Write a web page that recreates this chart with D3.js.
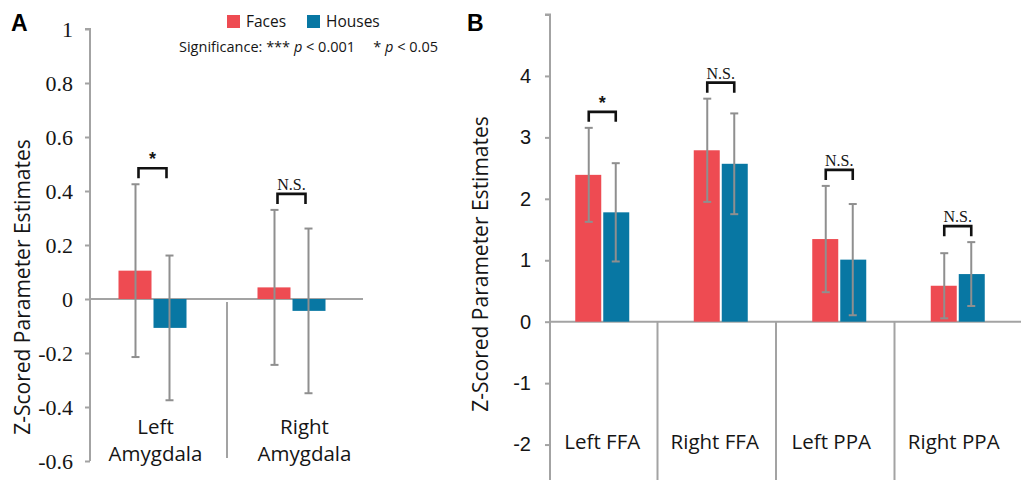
<!DOCTYPE html>
<html><head><meta charset="utf-8">
<script src="https://cdn.jsdelivr.net/npm/d3@7/dist/d3.min.js"></script>
<style>
html,body{margin:0;padding:0;background:#fff;}
svg{display:block;}
</style></head>
<body>
<svg id="chart" width="1021" height="480"></svg>
<script>
// ---------- data ----------
const seriesNames = ["Faces", "Houses"];
const seriesColors = ["#EE4B52", "#0877A3"];

const categoriesA = ["Left Amygdala", "Right Amygdala"];
const facesA = [0.105, 0.043];
const housesA = [-0.107, -0.044];
const facesErrA = [0.32, 0.287];
const housesErrA = [0.268, 0.305];
const sigA = ["*", "N.S."];
const ticksA = [-0.6, -0.4, -0.2, 0, 0.2, 0.4, 0.6, 0.8, 1];
const tickLabelsA = ["-0.6", "-0.4", "-0.2", "0", "0.2", "0.4", "0.6", "0.8", "1"];

const categoriesB = ["Left FFA", "Right FFA", "Left PPA", "Right PPA"];
const facesB = [2.39, 2.79, 1.345, 0.585];
const housesB = [1.78, 2.57, 1.01, 0.775];
const facesErrB = [0.765, 0.84, 0.865, 0.53];
const housesErrB = [0.8, 0.82, 0.905, 0.52];
const sigB = ["*", "N.S.", "N.S.", "N.S."];
const ticksB = [-2, -1, 0, 1, 2, 3, 4, 5];
const tickLabelsB = ["-2", "-1", "0", "1", "2", "3", "4", ""];

const yTitle = "Z-Scored Parameter Estimates";

// ---------- drawing ----------
const svg = d3.select("#chart");
const AXIS = "#a3a3a3", ERR = "#8f8f8f", INK = "#151515";
const sans = "'Open Sans', 'Noto Sans', sans-serif";
const serif = "'Liberation Serif', 'Times New Roman', serif";
const arial = "'Liberation Sans', Arial, sans-serif";

function panel(cfg) {
  const g = svg.append("g");
  const y = d3.scaleLinear().domain(cfg.domain).range(cfg.yRange);
  const x = d3.scaleBand().domain(cfg.cats).range(cfg.xRange);
  const sub = d3.scaleBand().domain(seriesNames).range([-cfg.barW, cfg.barW]);

  // y axis
  const axis = d3.axisLeft(y).tickValues(cfg.ticks).tickSize(5).tickPadding(cfg.tickPad)
    .tickFormat(d => cfg.tickLabels[cfg.ticks.indexOf(d)]);
  const ag = g.append("g").attr("transform", `translate(${cfg.axisX},0)`).call(axis);
  ag.attr("font-family", cfg.tickFont).attr("font-size", cfg.tickSize);
  ag.select(".domain").attr("stroke", AXIS).attr("stroke-width", 2)
    .attr("d", `M-5,${y(cfg.domain[1])}H0V${cfg.axisBottom}`);
  ag.selectAll(".tick line").attr("stroke", AXIS).attr("stroke-width", 2);
  ag.selectAll(".tick text").attr("fill", INK)
    .attr("font-family", cfg.tickFont).attr("font-size", cfg.tickSize)
    .style("font-family", cfg.tickFont).style("font-size", cfg.tickSize + "px");

  // zero line
  g.append("line").attr("x1", cfg.axisX).attr("x2", cfg.zeroEnd)
    .attr("y1", y(0)).attr("y2", y(0)).attr("stroke", AXIS).attr("stroke-width", 2);

  // separators
  cfg.cats.slice(1).forEach(c => {
    g.append("line").attr("x1", x(c) + cfg.sepShift).attr("x2", x(c) + cfg.sepShift)
      .attr("y1", y(0) + cfg.sepGap).attr("y2", cfg.sepBottom)
      .attr("stroke", AXIS).attr("stroke-width", 2);
  });

  const vals = [cfg.faces, cfg.houses];
  const errs = [cfg.facesErr, cfg.housesErr];
  const cx = c => x(c) + x.bandwidth() / 2 + cfg.barShift;

  // bars
  seriesNames.forEach((s, si) => {
    g.selectAll(null).data(cfg.cats).enter().append("rect")
      .attr("x", c => cx(c) + sub(s) + (si === 1 ? 1 : 0))
      .attr("width", sub.bandwidth() - 1)
      .attr("y", (c, i) => y(Math.max(0, vals[si][i])))
      .attr("height", (c, i) => Math.abs(y(vals[si][i]) - y(0)))
      .attr("fill", seriesColors[si]);
  });

  // error bars
  seriesNames.forEach((s, si) => {
    cfg.cats.forEach((c, i) => {
      const ex = cx(c) + sub(s) + sub.bandwidth() / 2;
      const top = y(vals[si][i] + errs[si][i]);
      const bot = y(vals[si][i] - errs[si][i]);
      const e = g.append("g").attr("stroke", ERR).attr("stroke-width", 2);
      e.append("line").attr("x1", ex).attr("x2", ex).attr("y1", top).attr("y2", bot);
      e.append("line").attr("x1", ex - 4).attr("x2", ex + 4).attr("y1", top).attr("y2", top);
      e.append("line").attr("x1", ex - 4).attr("x2", ex + 4).attr("y1", bot).attr("y2", bot);
    });
  });

  // significance brackets
  cfg.cats.forEach((c, i) => {
    const maxTop = Math.min(y(cfg.faces[i] + cfg.facesErr[i]), y(cfg.houses[i] + cfg.housesErr[i]));
    const by = maxTop - 16;
    const c0 = cx(c);
    g.append("path")
      .attr("d", `M${c0 - cfg.brW},${by + 10}V${by}H${c0 + cfg.brW}V${by + 10}`)
      .attr("fill", "none").attr("stroke", "#111").attr("stroke-width", 2.6);
    const lab = cfg.sig[i];
    if (lab === "*") {
      g.append("text").attr("x", c0).attr("y", by - 3).attr("text-anchor", "middle")
        .style("font-family", arial).style("font-size", "18px")
        .style("font-weight", "bold").attr("fill", INK).text("*");
    } else {
      g.append("text").attr("x", c0).attr("y", by - 4).attr("text-anchor", "middle")
        .style("font-family", serif).style("font-size", "16px")
        .attr("fill", INK).text(lab);
    }
  });

  // category labels
  cfg.cats.forEach((c, i) => {
    const lines = cfg.twoLine ? c.split(" ") : [c];
    const t = g.append("text").attr("text-anchor", "middle")
      .style("font-family", sans).style("font-size", cfg.catSize + "px").attr("fill", INK);
    lines.forEach((ln, li) => {
      t.append("tspan").attr("x", x(c) + x.bandwidth() / 2 + cfg.labelShift[i])
        .attr("y", cfg.catY + li * cfg.catLine).text(ln);
    });
  });

  // y title
  svg.append("text")
    .attr("transform", `translate(${cfg.titleX},${cfg.titleY}) rotate(-90)`)
    .attr("text-anchor", "middle").style("font-family", sans).style("font-size", "21px")
    .attr("fill", INK).text(yTitle);

  // panel letter
  svg.append("text").attr("x", cfg.letterX).attr("y", 31)
    .style("font-family", arial).style("font-size", "23px")
    .style("font-weight", "bold").attr("fill", "#000").text(cfg.letter);
}

panel({
  letter: "A", letterX: 11,
  cats: categoriesA, faces: facesA, houses: housesA, facesErr: facesErrA, housesErr: housesErrA, sig: sigA,
  domain: [-0.6, 1], yRange: [461, 29], ticks: ticksA, tickLabels: tickLabelsA,
  tickFont: serif, tickSize: 22, tickPad: 12,
  axisX: 90, axisBottom: 461, zeroEnd: 363,
  xRange: [88, 366], barW: 34, barShift: -5, brW: 14,
  sepShift: 0, sepGap: 3, sepBottom: 458,
  twoLine: true, catY: 434, catLine: 27, catSize: 20.5, labelShift: [-2, 8],
  titleX: 30, titleY: 287
});

panel({
  letter: "B", letterX: 467,
  cats: categoriesB, faces: facesB, houses: housesB, facesErr: facesErrB, housesErr: housesErrB, sig: sigB,
  domain: [-3, 5], yRange: [506, 14.5], ticks: ticksB, tickLabels: tickLabelsB,
  tickFont: arial, tickSize: 20, tickPad: 14,
  axisX: 550, axisBottom: 480, zeroEnd: 1021,
  xRange: [543, 1017], barW: 27, barShift: 0, brW: 13.5,
  sepShift: -4, sepGap: 0, sepBottom: 480,
  twoLine: false, catY: 449, catLine: 0, catSize: 20.5, labelShift: [0, -6, -8, -4],
  titleX: 488, titleY: 264
});

// legend
const leg = svg.append("g");
const legX = [227, 307];
seriesNames.forEach((s, i) => {
  leg.append("rect").attr("x", legX[i]).attr("y", 15).attr("width", 13).attr("height", 13)
    .attr("fill", seriesColors[i]);
  leg.append("text").attr("x", legX[i] + 19).attr("y", 27)
    .style("font-family", sans).style("font-size", "15.5px").attr("fill", INK).text(s);
});
const sig = svg.append("text").attr("x", 179).attr("y", 52)
  .style("font-family", sans).style("font-size", "14.5px").attr("fill", INK);
sig.append("tspan").text("Significance: *** ");
sig.append("tspan").style("font-style", "italic").text("p");
sig.append("tspan").text(" < 0.001\u2003 * ");
sig.append("tspan").style("font-style", "italic").text("p");
sig.append("tspan").text(" < 0.05");
</script>
</body></html>
